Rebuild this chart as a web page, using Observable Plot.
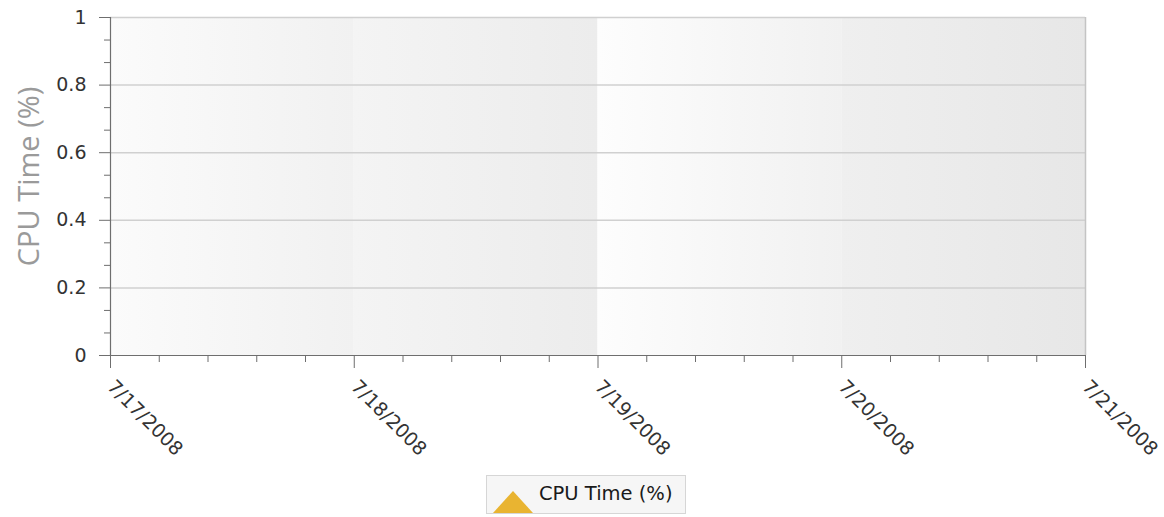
<!DOCTYPE html>
<html>
<head>
<meta charset="utf-8">
<script src="https://cdn.jsdelivr.net/npm/d3@7"></script>
<script src="https://cdn.jsdelivr.net/npm/@observablehq/plot@0.6"></script>
<style>
  html, body { margin: 0; padding: 0; background: #ffffff; }
  #chart { position: relative; width: 1164px; height: 517px; }
  .legend {
    position: absolute; left: 486px; top: 475px; width: 200px; height: 39px;
    box-sizing: border-box; border: 1px solid #d6d6d6; background: #f6f6f6;
    font-family: "DejaVu Sans", sans-serif; font-size: 19.5px; color: #1a1a1a;
    display: flex; align-items: flex-end;
  }
  .legend svg { margin-left: 6px; margin-right: 6px; display: block; }
  .legend span { margin-bottom: 8px; }
</style>
</head>
<body>
<div id="chart"></div>
<script>
// ---- data ----
const seriesName = "CPU Time (%)";
const seriesDates = [];   // the reference chart shows no data points
const seriesValues = [];
const dayDates = ["2008-07-17", "2008-07-18", "2008-07-19", "2008-07-20", "2008-07-21"];
const dayLabels = ["7/17/2008", "7/18/2008", "7/19/2008", "7/20/2008", "7/21/2008"];
const yTicks = [0, 0.2, 0.4, 0.6, 0.8, 1];
const yTickLabels = ["0", "0.2", "0.4", "0.6", "0.8", "1"];
const yAxisTitle = "CPU Time (%)";

// ---- styles ----
const bandShades = [["#fbfbfb", "#f1f1f1"], ["#f4f4f4", "#ececec"], ["#fdfdfd", "#f1f1f1"], ["#efefef", "#e7e7e7"]];
const seriesColor = "#e9b431";

const days = dayDates.map(d => new Date(d + "T00:00:00Z"));
const dayLabelOf = new Map(days.map((d, i) => [+d, dayLabels[i]]));
const yLabelOf = new Map(yTicks.map((v, i) => [v, yTickLabels[i]]));

const bands = days.slice(0, -1).map((d, i) => ({x1: d, x2: days[i + 1], grad: `url(#band${i})`}));

const minorX = [];
for (let i = 0; i < days.length - 1; i++) {
  const a = +days[i], b = +days[i + 1];
  for (let k = 1; k < 5; k++) minorX.push(new Date(a + (b - a) * k / 5));
}
const minorY = [];
for (let i = 0; i < yTicks.length - 1; i++) {
  const a = yTicks[i], b = yTicks[i + 1];
  for (let k = 1; k < 3; k++) minorY.push(a + (b - a) * k / 3);
}

const data = seriesDates.map((d, i) => ({date: new Date(d + "T00:00:00Z"), value: seriesValues[i]}));

const axisColor = "#6e6e6e";

const svg = Plot.plot({
  width: 1164,
  height: 475,
  marginLeft: 110,
  marginRight: 79,
  marginTop: 17,
  marginBottom: 120,
  style: {fontFamily: "DejaVu Sans, sans-serif", fontSize: "19px", color: "#333", background: "transparent"},
  x: {type: "utc", domain: [days[0], days[days.length - 1]], label: null},
  y: {domain: [0, 1], label: null},
  color: {type: "identity"},
  marks: [
    Plot.rect(bands, {x1: "x1", x2: "x2", y1: 0, y2: 1, fill: "grad"}),
    Plot.gridY(yTicks.slice(1), {stroke: "#d0d0d0", strokeOpacity: 1, strokeWidth: 1.5}),
    Plot.ruleX([days[days.length - 1]], {y1: 0, y2: 1, stroke: "#c4c4c4", strokeWidth: 1.5}),
    Plot.line(data, {x: "date", y: "value", stroke: seriesColor}),
    Plot.dot(data, {x: "date", y: "value", symbol: "triangle", fill: seriesColor}),
    Plot.ruleX([days[0]], {y1: 0, y2: 1, stroke: axisColor, strokeWidth: 1.2}),
    Plot.ruleY([0], {x1: days[0], x2: days[days.length - 1], stroke: axisColor, strokeWidth: 1.2}),
    Plot.axisY(yTicks, {tickSize: 11, tickPadding: 13, stroke: axisColor, fill: "#333", fontSize: 19,
      tickFormat: d => yLabelOf.get(d), label: null}),
    Plot.axisY(minorY, {tickSize: 6, stroke: axisColor, tickFormat: () => "", label: null}),
    Plot.axisX(days, {tickSize: 13, tickPadding: 15, tickRotate: 45, textAnchor: "start", stroke: axisColor, fill: "#333", fontSize: 19,
      tickFormat: d => dayLabelOf.get(+d), label: null}),
    Plot.axisX(minorX, {tickSize: 7, stroke: axisColor, tickFormat: () => "", label: null}),
    Plot.text([yAxisTitle], {frameAnchor: "left", textAnchor: "middle", rotate: -90, dx: -81, dy: -10, fill: "#9a9a9a",
      fontSize: 29, fontFamily: "Open Sans, sans-serif"})
  ]
});

const defs = d3.select(svg).insert("defs", ":first-child");
bandShades.forEach((s, i) => {
  const g = defs.append("linearGradient").attr("id", `band${i}`).attr("x1", "0").attr("x2", "1").attr("y1", "0").attr("y2", "0");
  g.append("stop").attr("offset", "0").attr("stop-color", s[0]);
  g.append("stop").attr("offset", "1").attr("stop-color", s[1]);
});

const chart = document.getElementById("chart");
chart.appendChild(svg);

const legend = document.createElement("div");
legend.className = "legend";
legend.innerHTML = `<svg width="40" height="23" viewBox="0 0 40 23"><polygon points="20,1 40,23 0,23" fill="${seriesColor}"/></svg><span>${seriesName}</span>`;
chart.appendChild(legend);
</script>
</body>
</html>
